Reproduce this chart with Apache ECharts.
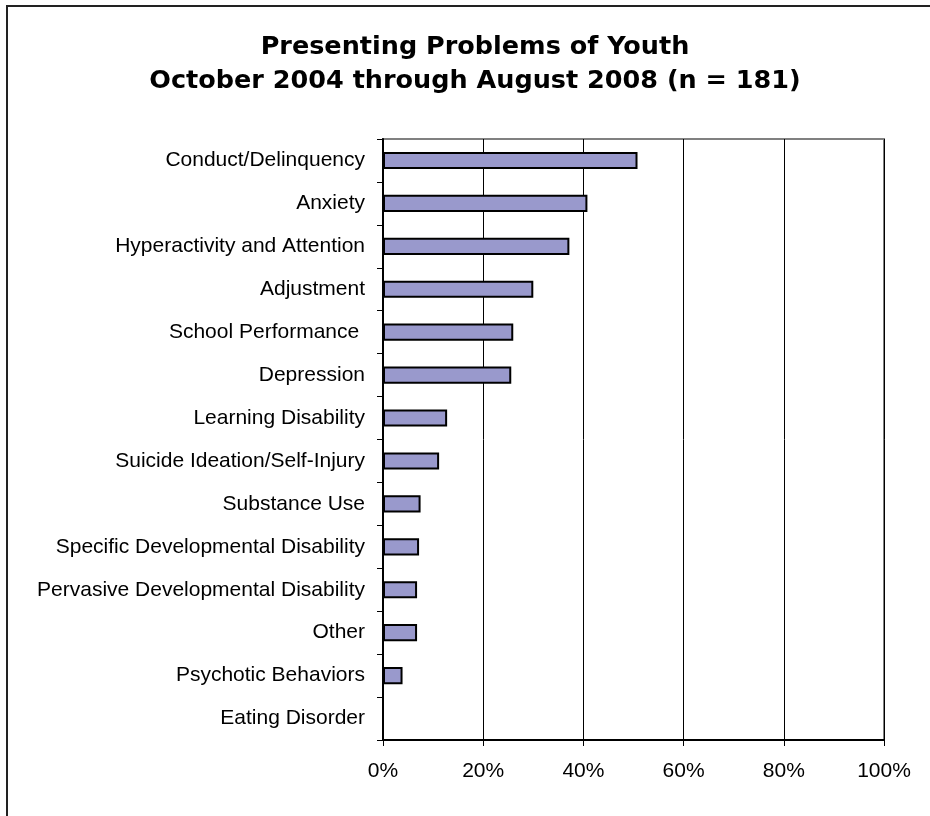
<!DOCTYPE html>
<html>
<head>
<meta charset="utf-8">
<script src="https://cdn.jsdelivr.net/npm/echarts@6/dist/echarts.min.js"></script>
<style>
  html, body { margin: 0; padding: 0; background: #fff; }
  #main { width: 930px; height: 816px; }
</style>
</head>
<body>
<div id="main"></div>
<script>
  // categories, top to bottom
  const categories = [
    'Conduct/Delinquency',
    'Anxiety',
    'Hyperactivity and Attention',
    'Adjustment',
    'School Performance ',
    'Depression',
    'Learning Disability',
    'Suicide Ideation/Self-Injury',
    'Substance Use',
    'Specific Developmental Disability',
    'Pervasive Developmental Disability',
    'Other',
    'Psychotic Behaviors',
    'Eating Disorder'
  ];
  // percent of youth (n = 181)
  const percents = [50.8, 40.8, 37.2, 30.0, 26.0, 25.6, 12.8, 11.2, 7.5, 7.2, 6.8, 6.8, 3.9, 0];
  const xTicks = [0, 20, 40, 60, 80, 100];

  const titleText = 'Presenting Problems of Youth\nOctober 2004 through August 2008 (n = 181)';

  let myChart = echarts.init(document.getElementById('main'), null, {renderer: 'canvas'});
  myChart.setOption({
    backgroundColor: '#fff',
    animation: false,
    title: {
      text: titleText,
      left: 475,
      top: 30,
      textAlign: 'center',
      padding: 0,
      textStyle: {
        fontFamily: 'DejaVu Sans',
        fontWeight: 'bold',
        fontSize: 25.5,
        lineHeight: 34,
        color: '#000'
      }
    },
    graphic: [{
      type: 'rect',
      shape: {x: 7, y: 6, width: 1000, height: 1000},
      style: {fill: null, stroke: '#222', lineWidth: 2},
      silent: true
    }],
    grid: {
      left: 383,
      right: 46,
      top: 139,
      bottom: 76,
      show: true,
      borderColor: '#808080',
      borderWidth: 2,
      containLabel: false
    },
    xAxis: {
      type: 'value',
      min: xTicks[0],
      max: xTicks[xTicks.length - 1],
      interval: 20,
      axisLine: {show: true, lineStyle: {color: '#000', width: 2}},
      axisTick: {show: true, inside: false, length: 6, lineStyle: {color: '#000', width: 1}},
      splitLine: {show: true, lineStyle: {color: '#000', width: 1}},
      axisLabel: {
        formatter: '{value}%',
        margin: 21,
        fontFamily: 'Liberation Sans',
        fontSize: 21,
        color: '#000'
      }
    },
    yAxis: {
      type: 'category',
      data: categories,
      inverse: true,
      axisLine: {show: true, lineStyle: {color: '#000', width: 2}},
      axisTick: {show: true, inside: false, length: 6, alignWithLabel: false, lineStyle: {color: '#000', width: 1}},
      splitLine: {show: false},
      axisLabel: {
        margin: 18,
        fontFamily: 'Liberation Sans',
        fontSize: 21,
        color: '#000'
      }
    },
    series: [{
      type: 'bar',
      data: percents,
      barWidth: '40%',
      itemStyle: {
        color: '#9999CC',
        borderColor: '#000',
        borderWidth: 2
      }
    }]
  });
</script>
</body>
</html>
